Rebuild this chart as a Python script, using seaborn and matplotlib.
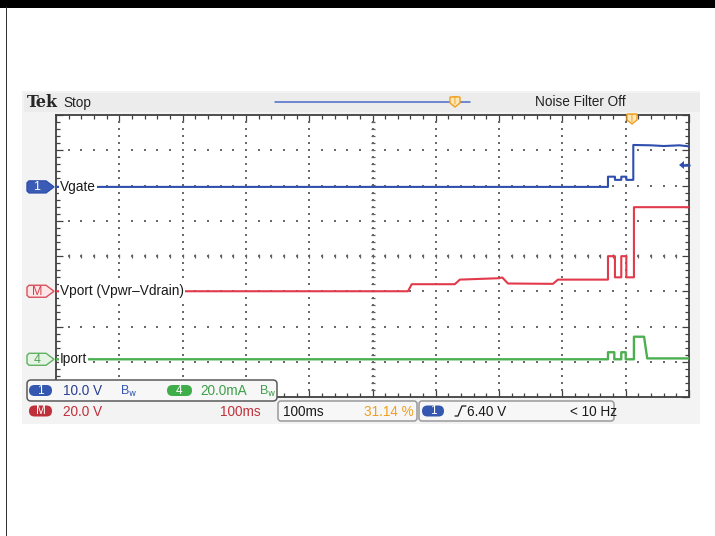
import numpy as np
import matplotlib
matplotlib.use("Agg")
import matplotlib.pyplot as plt
from matplotlib.patches import Rectangle, FancyBboxPatch, Polygon
import seaborn as sns

# ---- trace data read from the scope screen (time in ms, 100 ms/div) ----
# channel 1: Vgate, volts
vgate_t = [0, 872, 872, 883, 883, 893, 893, 901, 901, 912, 912, 940, 960, 985, 1000]
vgate_v = [0.0, 0.0, 2.9, 2.9, 2.0, 2.0, 2.9, 2.9, 2.0, 2.0, 11.9, 11.8, 11.6, 11.8, 11.5]

# math channel M: Vport = Vpwr - Vdrain, volts
vport_t = [0, 556, 562, 630, 638, 700, 705, 714, 785, 793, 872, 872, 883, 883,
           893, 893, 901, 901, 913, 913, 1000]
vport_v = [0.0, 0.0, 4.0, 4.0, 6.6, 7.4, 7.8, 4.4, 4.2, 6.6, 6.6, 19.9, 19.9, 7.9,
           7.9, 19.9, 19.9, 7.9, 7.9, 47.7, 47.7]

# channel 4: Iport, mA
iport_t = [0, 872, 872, 882, 882, 893, 893, 900, 900, 913, 913, 929, 934, 1000]
iport_v = [0.0, 0.0, 4.0, 4.0, 0.0, 0.0, 4.0, 4.0, 0.0, 0.0, 12.8, 12.8, 0.5, 0.5]

# vertical scale (units/div) and ground position (div from bottom)
chan_scale = {"Vgate": 10.0, "Vport": 20.0, "Iport": 20.0}
chan_pos = {"Vgate": 5.96, "Vport": 3.0, "Iport": 1.07}

BLUE = "#2f4fae"
RED = "#e23a4a"
GREEN = "#4cb050"
ORANGE = "#f0a020"
FS = 9.8

sns.set_style("white")
plt.rcParams['font.family'] = ['Liberation Sans', 'DejaVu Sans']
plt.rcParams['font.size'] = FS

W, H = 715, 536
fig = plt.figure(figsize=(W / 100, H / 100), dpi=100)

# background layer in pixel coords
bg = fig.add_axes([0, 0, 1, 1], zorder=0)
bg.set_xlim(0, W)
bg.set_ylim(H, 0)
bg.axis('off')

# page rules
bg.add_patch(Rectangle((0, 0), W, 4.5, color='black', lw=0))
bg.add_patch(Rectangle((0, 5.3), W, 2.4, color='black', lw=0))
bg.add_patch(Rectangle((5.5, 7), 1.6, H, color='#333333', lw=0))

# scope screen background + header bar
bg.add_patch(Rectangle((22, 91), 678, 333, color='#f3f3f3', lw=0))
bg.add_patch(Rectangle((24, 93), 676, 19, color='#ececec', lw=0))
bg.text(27, 102.5, "Tek", family='DejaVu Serif', weight='bold', fontsize=11.5, va='center')
bg.text(63, 103.5, "Stop", fontsize=FS, va='center', color='#222222')
bg.plot([275, 470], [102, 102], color='#4a6ac8', lw=1.1)
bg.text(580, 102.5, "Noise Filter Off", fontsize=FS, va='center', ha='center', color='#222222')

# ---- main graticule ----
GX0, GX1, GY0, GY1 = 56, 689, 115, 397
ax = fig.add_axes([GX0 / W, 1 - GY1 / H, (GX1 - GX0) / W, (GY1 - GY0) / H], zorder=1)
ax.set_facecolor('white')
ax.set_xlim(0, 1000)
ax.set_ylim(0, 8)
for s in ax.spines.values():
    s.set_color('#404040')
    s.set_linewidth(1.3)
ax.set_xticks(np.arange(0, 1001, 100))
ax.set_xticks(np.arange(0, 1001, 20), minor=True)
ax.set_yticks(np.arange(0, 9, 1))
ax.set_yticks(np.arange(0, 8.01, 0.2), minor=True)
ax.tick_params(which='both', direction='in', top=True, right=True, bottom=True, left=True,
               labelbottom=False, labelleft=False, color='#404040', width=0.9)
ax.tick_params(which='major', length=5)
ax.tick_params(which='minor', length=3)

# dotted division lines
ydots = np.arange(0.2, 8, 0.2)
xdots = np.arange(20, 1000, 20)
for xv in range(100, 1000, 100):
    ax.scatter(np.full_like(ydots, xv), ydots, s=1.8, marker='s', color='#6a6a6a', lw=0, zorder=1)
for yv in range(1, 8):
    ax.scatter(xdots, np.full_like(xdots, yv, dtype=float), s=1.8, marker='s', color='#6a6a6a',
               lw=0, zorder=1)
# centre cross ticks
ax.scatter(np.full_like(ydots, 500), ydots, s=8, marker='_', color='#606060', lw=0.9, zorder=1)
ax.scatter(xdots, np.full_like(xdots, 4, dtype=float), s=8, marker='|', color='#606060',
           lw=0.9, zorder=1)

# traces
traces = [("Vgate", vgate_t, vgate_v, BLUE, 1.5),
          ("Vport", vport_t, vport_v, RED, 1.5),
          ("Iport", iport_t, iport_v, GREEN, 1.7)]
for name, t, v, col, lw in traces:
    y = chan_pos[name] + np.asarray(v) / chan_scale[name]
    sns.lineplot(x=np.asarray(t), y=y, ax=ax, color=col, lw=lw, sort=False,
                 estimator=None, zorder=3)
ax.set_xlabel('')
ax.set_ylabel('')

lbl = dict(fontsize=FS, va='center', ha='left', color='#1a1a1a', zorder=4,
           bbox=dict(facecolor='white', edgecolor='none', pad=0.8))
ax.text(6, chan_pos["Vgate"], "Vgate", **lbl)
ax.text(6, chan_pos["Vport"], "Vport (Vpwr\u2013Vdrain)", **lbl)
ax.text(6, chan_pos["Iport"], "Iport", **lbl)

# ---- overlay layer in pixel coords ----
ov = fig.add_axes([0, 0, 1, 1], zorder=2)
ov.set_xlim(0, W)
ov.set_ylim(H, 0)
ov.axis('off')


def chan_tag(yc, txt, face, edge, tcol, tip=54):
    pts = [(29, yc - 6), (46, yc - 6), (tip, yc), (46, yc + 6), (29, yc + 6),
           (27, yc + 4), (27, yc - 4)]
    ov.add_patch(Polygon(pts, closed=True, facecolor=face, edgecolor=edge, lw=1))
    ov.text(37, yc + 0.5, txt, ha='center', va='center', fontsize=9, color=tcol)


def y_pix(name):
    return GY1 - chan_pos[name] * (GY1 - GY0) / 8


chan_tag(y_pix("Vgate"), "1", '#3a5cb6', '#2f4fae', 'white')
chan_tag(y_pix("Vport"), "M", '#fde6e8', '#d8505c', '#d8404c')
chan_tag(y_pix("Iport"), "4", '#e6f4e6', '#60b060', '#50a050')

# channel 1 trigger level arrow on the right edge
ov.add_patch(Polygon([(679, 165), (684, 161), (684, 169)], closed=True, color=BLUE, lw=0))
ov.plot([683, 689], [165, 165], color=BLUE, lw=1.8)


def trig_mark(xc, ytop):
    pts = [(xc - 5, ytop), (xc + 5, ytop), (xc + 5, ytop + 6), (xc, ytop + 10), (xc - 5, ytop + 6)]
    ov.add_patch(Polygon(pts, closed=True, facecolor='#fde7b8', edgecolor=ORANGE, lw=1))
    ov.text(xc, ytop + 4.5, "T", ha='center', va='center', fontsize=7, color=ORANGE)


trig_mark(455, 97)
trig_mark(632, 114)

# ---- readout boxes ----
ov.add_patch(FancyBboxPatch((27, 380), 250, 21, boxstyle="round,pad=0,rounding_size=4",
                            facecolor='#f7f7f7', edgecolor='#5a5a5a', lw=1.1))
ov.add_patch(FancyBboxPatch((278, 401), 139, 20, boxstyle="round,pad=0,rounding_size=3",
                            facecolor='#f7f7f7', edgecolor='#9a9a9a', lw=1.1))
ov.add_patch(FancyBboxPatch((419, 401), 195, 20, boxstyle="round,pad=0,rounding_size=3",
                            facecolor='#f7f7f7', edgecolor='#9a9a9a', lw=1.1))


def pill(x0, x1, yc, txt, face):
    ov.add_patch(FancyBboxPatch((x0, yc - 5.5), x1 - x0, 11,
                                boxstyle="round,pad=0,rounding_size=5.5",
                                facecolor=face, edgecolor='none'))
    ov.text((x0 + x1) / 2, yc + 0.5, txt, ha='center', va='center', fontsize=8.5, color='white')


pill(29, 52, 390.5, "1", '#3458b0')
ov.text(63, 391, "10.0 V", fontsize=FS, va='center', color='#2a3f8f')
ov.text(120, 391, "B$_\\mathrm{w}$", fontsize=9, va='center', color='#3458b0')
pill(167, 192, 390.5, "4", '#3fae4a')
ov.text(200, 391, "20.0mA", fontsize=FS, va='center', color='#3fa04a')
ov.text(259, 391, "B$_\\mathrm{w}$", fontsize=9, va='center', color='#3fa04a')

pill(29, 52, 411, "M", '#c0303a')
ov.text(63, 411.5, "20.0 V", fontsize=FS, va='center', color='#c0303a')
ov.text(261, 411.5, "100ms", fontsize=FS, va='center', ha='right', color='#c0303a')
ov.text(283, 411.5, "100ms", fontsize=FS, va='center', color='#1a1a1a')
ov.text(414, 411.5, "31.14 %", fontsize=FS, va='center', ha='right', color=ORANGE)
pill(422, 444, 411, "1", '#3458b0')
ov.plot([455, 458, 462, 466], [416, 416, 406, 406], color='#1a1a1a', lw=0.9)
ov.text(467, 411.5, "6.40 V", fontsize=FS, va='center', color='#1a1a1a')
ov.text(570, 411.5, "< 10 Hz", fontsize=FS, va='center', color='#1a1a1a')

fig.savefig("out.png", dpi=100)
